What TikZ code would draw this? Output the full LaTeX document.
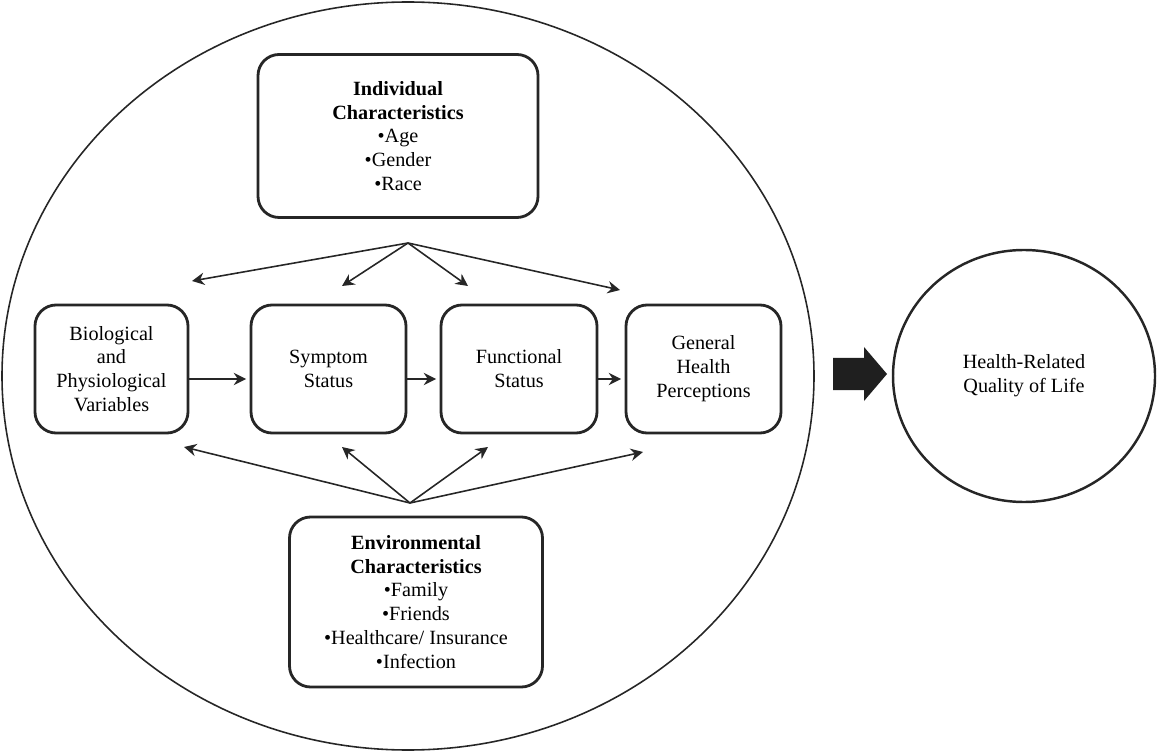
\documentclass[tikz,border=0pt]{standalone}
\usepackage{fontspec}
\setmainfont{Liberation Serif}
\usetikzlibrary{positioning, arrows.meta, shapes.geometric}

\begin{document}
\begin{tikzpicture}[
  box/.style={draw=black!85, line width=1.6pt, rounded corners=12pt,
    align=center, inner sep=3pt, font=\fontsize{11.5}{13.6}\selectfont},
  arw/.style={-{Stealth[length=7pt,width=7pt]}, line width=0.9pt, black!85},
  ring/.style={draw=black!85, line width=0.9pt},
]
\useasboundingbox (0,0) rectangle (23.16,-15.02);

% outer circles
\draw[ring] (8.16,-7.52) ellipse [x radius=8.12, y radius=7.48];
\node[ring, line width=1.4pt, ellipse, minimum width=5.24cm, minimum height=5.04cm,
  font=\fontsize{11.5}{13.6}\selectfont, align=center] (hrql) at (20.48,-7.52)
  {Health-Related\\Quality of Life};

% characteristics
\node[box, minimum width=5.6cm, minimum height=3.26cm] (indiv) at (7.96,-2.72)
  {\textbf{Individual}\\\textbf{Characteristics}\\\textbullet Age\\\textbullet Gender\\\textbullet Race};
\node[box, minimum width=5.06cm, minimum height=3.4cm] (envir) at (8.32,-12.04)
  {\textbf{Environmental}\\\textbf{Characteristics}\\\textbullet Family\\\textbullet Friends\\\textbullet Healthcare/ Insurance\\\textbullet Infection};

% main chain
\node[box, minimum width=3.06cm, minimum height=2.56cm] (bio) at (2.23,-7.38)
  {Biological\\and\\Physiological\\Variables};
\node[box, minimum width=3.1cm, minimum height=2.56cm] (symp) at (6.57,-7.38)
  {Symptom\\Status};
\node[box, minimum width=3.12cm, minimum height=2.56cm] (func) at (10.38,-7.38)
  {Functional\\Status};
\node[box, minimum width=3.1cm, minimum height=2.56cm] (gen) at (14.07,-7.38)
  {General\\Health\\Perceptions};

\draw[arw, line width=1.1pt, shorten >=2pt] ([yshift=-0.2cm]bio.east) -- ([yshift=-0.2cm]symp.west);
\draw[arw, line width=1.1pt, shorten >=2pt] ([yshift=-0.2cm]symp.east) -- ([yshift=-0.2cm]func.west);
\draw[arw, line width=1.1pt, shorten >=2pt] ([yshift=-0.2cm]func.east) -- ([yshift=-0.2cm]gen.west);

% fan from individual characteristics
\coordinate (itop) at (8.16,-4.86);
\coordinate (t1) at (3.84,-5.62);
\coordinate (t2) at (6.84,-5.72);
\coordinate (t3) at (9.36,-5.72);
\coordinate (t4) at (12.4,-5.8);
\foreach \t in {t1,t2,t3,t4}
  \draw[arw] (itop) -- (\t);

% fan from environmental characteristics
\coordinate (ebot) at (8.2,-10.06);
\coordinate (b1) at (3.68,-8.94);
\coordinate (b2) at (6.84,-8.94);
\coordinate (b3) at (9.76,-8.94);
\coordinate (b4) at (12.86,-9.04);
\foreach \b in {b1,b2,b3,b4}
  \draw[arw] (ebot) -- (\b);

% block arrow to HRQL
\fill[black!88] (16.66,-7.16) -- (17.28,-7.16) -- (17.28,-6.94) -- (17.74,-7.48)
  -- (17.28,-8.02) -- (17.28,-7.8) -- (16.66,-7.8) -- cycle;
\end{tikzpicture}
\end{document}
